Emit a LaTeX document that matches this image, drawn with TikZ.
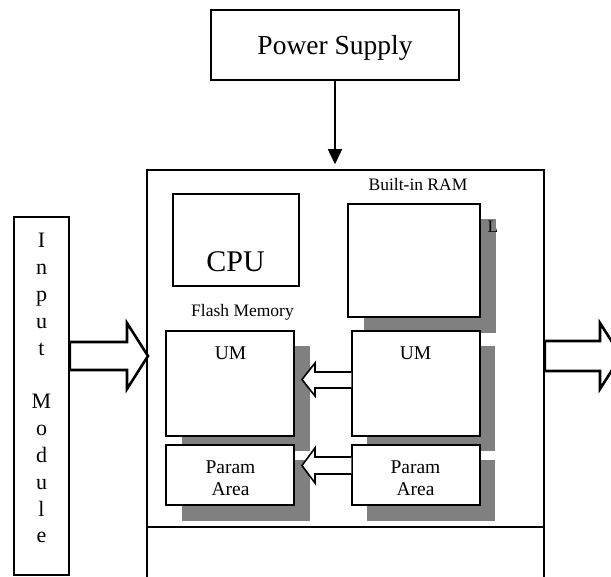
\documentclass[tikz,border=0pt]{standalone}
\usepackage{fontspec}
\setmainfont{Liberation Serif}
\usetikzlibrary{arrows.meta}
\begin{document}
\begin{tikzpicture}[x=1pt,y=-1pt,line join=miter,
  box/.style={draw,line width=1.5pt,fill=white,inner sep=0pt},
  shade/.style={fill=black!50},
  lbl/.style={inner sep=0pt,anchor=base},
  big/.style={font=\fontsize{27.5}{30}\selectfont},
  cpufont/.style={font=\fontsize{30}{33}\selectfont},
  small/.style={font=\fontsize{17.5}{20}\selectfont},
  mid/.style={font=\fontsize{19.5}{23}\selectfont},
  col/.style={font=\fontsize{22}{26}\selectfont},
  hollow/.style={draw,line width=2.6pt,fill=white},
  hollowsmall/.style={draw,line width=1.6pt,fill=white}]
\useasboundingbox (0,0) rectangle (611,577);
\clip (0,0) rectangle (611,577);

% Power supply
\node[box,minimum width=248pt,minimum height=70pt] (ps) at (335,45) {};
\node[lbl,big] (pst) at (335,55) {Power Supply};

% Main box (continues below the picture)
\node[box,minimum width=397pt,minimum height=530pt,fill=none] (main) at (345.5,435) {};
\coordinate (sepL) at (147,527);
\coordinate (sepR) at (544,527);
\draw[line width=1.5pt] (sepL) -- (sepR);
\draw[line width=1.5pt,-{Triangle[length=15pt,width=14pt]},shorten >=5pt] (ps.south) -- (ps.south |- main.north);

% CPU
\node[box,minimum width=126pt,minimum height=92pt] (cpu) at (236,240) {};
\node[lbl,cpufont] (cput) at (235.5,272) {CPU};
\node[lbl,small] (flt) at (242.5,317) {Flash Memory};
\node[lbl,small] (ramt) at (418,190.5) {Built-in RAM};

% RAM big box with shadow
\fill[shade] (364,219) rectangle (496,333);
\begin{scope}
  \clip (480,200) rectangle (496,260);
  \node[lbl,small,anchor=base west] (lt) at (487.5,233) {L};
\end{scope}
\node[box,minimum width=132pt,minimum height=113pt] (ram) at (414,260.5) {};

% UM boxes with shadows
\fill[shade] (182,346) rectangle (310,451);
\fill[shade] (367,346) rectangle (495,451);
\node[box,minimum width=128pt,minimum height=105pt] (umL) at (230,383.5) {};
\node[box,minimum width=128pt,minimum height=105pt] (umR) at (416,383.5) {};
\node[lbl,mid] (umLt) at (230.5,360) {UM};
\node[lbl,mid] (umRt) at (415.5,360) {UM};

% Param boxes with shadows
\fill[shade] (182,460) rectangle (310,521);
\fill[shade] (367,460) rectangle (495,521);
\node[box,minimum width=128pt,minimum height=60pt] (paL) at (230,475) {};
\node[box,minimum width=128pt,minimum height=60pt] (paR) at (416,475) {};
\node[lbl,mid] (paLt1) at (230.5,473) {Param};
\node[lbl,mid] (paLt2) at (230.5,496) {Area};
\node[lbl,mid] (paRt1) at (415.5,473) {Param};
\node[lbl,mid] (paRt2) at (415.5,496) {Area};

% hollow arrows between RAM and Flash
\draw[hollowsmall] (umR.west |- 0,372) -- (315,372) -- (315,363) -- (302,379.5) -- (315,396) -- (315,388) -- (umR.west |- 0,388);
\draw[hollowsmall] (paR.west |- 0,457) -- (315,457) -- (315,448) -- (302,465.5) -- (315,483) -- (315,474) -- (paR.west |- 0,474);

% Input module
\node[box,minimum width=55pt,minimum height=358pt] (inm) at (41.5,396) {};
\foreach \ch/\yy [count=\i] in {I/248,n/274.8,p/301.6,u/328.4,t/355.2,M/408.8,o/435.6,d/462.4,u/489.2,l/516,e/542.8}
  \node[lbl,col] (inl\i) at (41.5,\yy) {\ch};

% big hollow arrows
\draw[hollow] (inm.east |- 0,342) -- (127,342) -- (127,323) -- (148,356) -- (127,389) -- (127,370) -- (inm.east |- 0,370) -- cycle;
\draw[hollow] (main.east |- 0,341) -- (600,341) -- (600,323) -- (621,356) -- (600,389) -- (600,371) -- (main.east |- 0,371) -- cycle;
\end{tikzpicture}
\end{document}
